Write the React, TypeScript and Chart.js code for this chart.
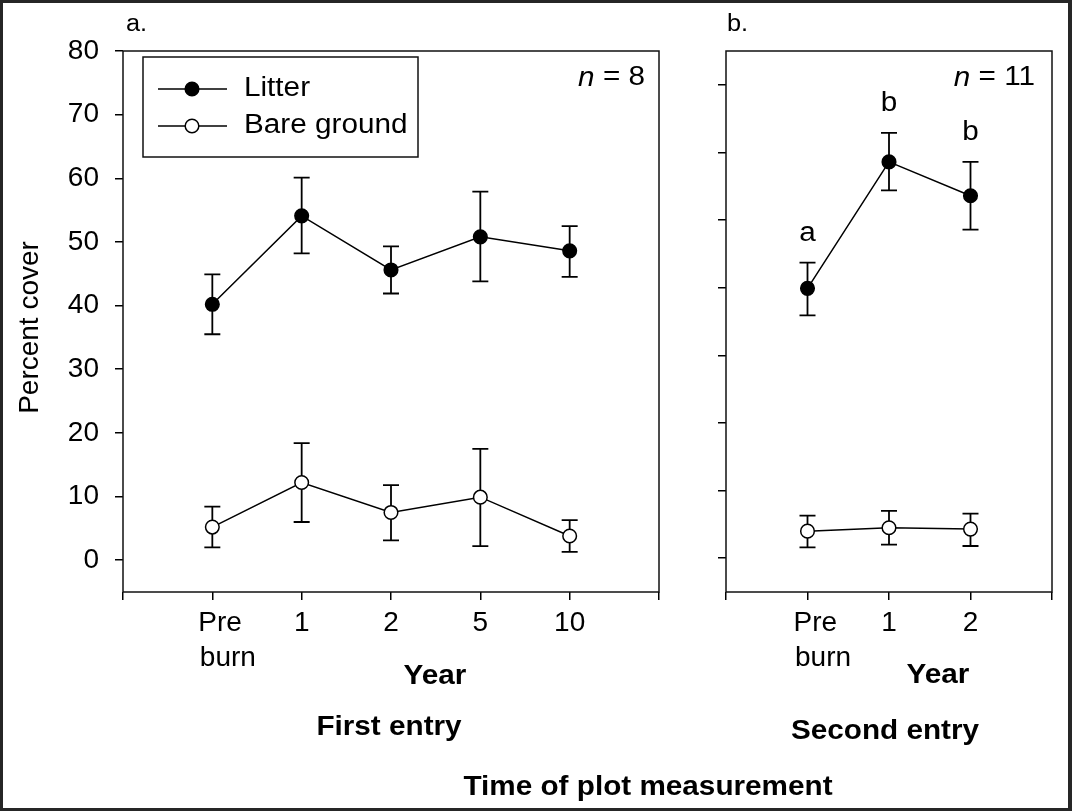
import React, { useEffect, useRef } from 'react';
import { Chart, registerables } from 'chart.js';

Chart.register(...registerables);

const WIDTH = 1072;
const HEIGHT = 811;
const FONT = "'Liberation Sans', Arial, Helvetica, sans-serif";

// ---------- Panel a: first entry (n = 8) ----------
const firstYears = ['Pre burn', '1', '2', '5', '10'];
const firstLitter = [40.2, 54.1, 45.6, 50.8, 48.6];
const firstLitterUpper = [44.9, 60.1, 49.3, 57.9, 52.5];
const firstLitterLower = [35.5, 48.2, 41.9, 43.8, 44.5];
const firstBare = [5.2, 12.2, 7.5, 9.9, 3.8];
const firstBareUpper = [8.4, 18.4, 11.8, 17.5, 6.3];
const firstBareLower = [2.0, 6.0, 3.1, 2.2, 1.3];
const firstYTicks = [0, 10, 20, 30, 40, 50, 60, 70, 80];

// ---------- Panel b: second entry (n = 11) ----------
const secondYears = ['Pre burn', '1', '2'];
const secondLitter = [39.9, 58.6, 53.6];
const secondLitterUpper = [43.7, 62.9, 58.6];
const secondLitterLower = [35.9, 54.4, 48.6];
const secondLitterLetters = ['a', 'b', 'b'];
const secondBare = [4.0, 4.5, 4.3];
const secondBareUpper = [6.3, 7.0, 6.6];
const secondBareLower = [1.6, 2.0, 1.8];
const secondYTicks = [0, 10, 20, 30, 40, 50, 60, 70];

const seriesNames = ['Litter', 'Bare ground'];
const yAxisTitle = 'Percent cover';

const pad = (arr: any[]) => [null, ...arr, null];

type TextItem = { text: string; x: number; y: number; font: string; align: CanvasTextAlign };

type PanelSpec = {
  years: string[];
  litter: number[]; litterUpper: number[]; litterLower: number[]; letters?: string[];
  bare: number[]; bareUpper: number[]; bareLower: number[];
  yMin: number; yMax: number; yTicks: number[]; showYLabels: boolean;
  area: { left: number; top: number; right: number; bottom: number };
  yAxisWidth: number;
  n: string; nRight: number;
  legend: boolean;
  texts: TextItem[];
};

const REG = (s: number) => `${s}px ${FONT}`;
const BOLD = (s: number) => `bold ${s}px ${FONT}`;
const SX = 1.1; // horizontal stretch of the source figure's lettering

const panelA: PanelSpec = {
  years: firstYears,
  litter: firstLitter, litterUpper: firstLitterUpper, litterLower: firstLitterLower,
  bare: firstBare, bareUpper: firstBareUpper, bareLower: firstBareLower,
  yMin: -5, yMax: 80, yTicks: firstYTicks, showYLabels: true,
  area: { left: 123, top: 51, right: 659, bottom: 592 },
  yAxisWidth: 123,
  n: '8', nRight: 645,
  legend: true,
  texts: [
    { text: 'a.', x: 126, y: 25, font: REG(23), align: 'left' },
    { text: 'Year', x: 435, y: 677, font: BOLD(27), align: 'center' },
    { text: 'First entry', x: 389, y: 728, font: BOLD(27), align: 'center' },
    { text: 'Time of plot measurement', x: 648, y: 788, font: BOLD(27), align: 'center' },
  ],
};

const panelB: PanelSpec = {
  years: secondYears,
  litter: secondLitter, litterUpper: secondLitterUpper, litterLower: secondLitterLower, letters: secondLitterLetters,
  bare: secondBare, bareUpper: secondBareUpper, bareLower: secondBareLower,
  yMin: -5, yMax: 75, yTicks: secondYTicks, showYLabels: false,
  area: { left: 726, top: 51, right: 1052, bottom: 592 },
  yAxisWidth: 40,
  n: '11', nRight: 1035,
  legend: false,
  texts: [
    { text: 'b.', x: 727, y: 25, font: REG(23), align: 'left' },
    { text: 'Year', x: 938, y: 676, font: BOLD(27), align: 'center' },
    { text: 'Second entry', x: 885, y: 732, font: BOLD(27), align: 'center' },
  ],
};

function drawText(ctx: CanvasRenderingContext2D, text: string, x: number, y: number, font: string, align: CanvasTextAlign, sx = SX) {
  ctx.save();
  ctx.font = font;
  ctx.textAlign = align;
  ctx.textBaseline = 'middle';
  ctx.fillStyle = '#000';
  ctx.translate(x, y);
  ctx.scale(sx, 1);
  ctx.fillText(text, 0, 0);
  ctx.restore();
}

function drawMarker(ctx: CanvasRenderingContext2D, x: number, y: number, fill: string) {
  ctx.beginPath();
  ctx.arc(x, y, 6.8, 0, Math.PI * 2);
  ctx.fillStyle = fill;
  ctx.fill();
  ctx.lineWidth = 1.5;
  ctx.strokeStyle = '#000';
  ctx.stroke();
}

// "Pre burn" is printed as two left-aligned lines in the source
const tickLabel = (c: string) => (c.includes(' ') ? ['  ' + c.split(' ')[0], '    ' + c.split(' ')[1]] : c);

function buildConfig(spec: PanelSpec): any {
  const labels = ['', ...spec.years.map(tickLabel), ''];
  const datasets: any[] = [
    {
      label: seriesNames[0],
      data: pad(spec.litter),
      errUpper: pad(spec.litterUpper),
      errLower: pad(spec.litterLower),
      letters: spec.letters ? pad(spec.letters) : null,
      borderColor: '#000',
      borderWidth: 1.5,
      pointBackgroundColor: '#000',
      pointBorderColor: '#000',
      pointBorderWidth: 1.5,
      pointRadius: 6.8,
      tension: 0,
    },
    {
      label: seriesNames[1],
      data: pad(spec.bare),
      errUpper: pad(spec.bareUpper),
      errLower: pad(spec.bareLower),
      borderColor: '#000',
      borderWidth: 1.5,
      pointBackgroundColor: '#fff',
      pointBorderColor: '#000',
      pointBorderWidth: 1.5,
      pointRadius: 6.8,
      tension: 0,
    },
  ];

  const decor = {
    id: 'panelDecor',
    beforeDatasetsDraw(chart: any) {
      const { ctx, chartArea: a, scales } = chart;
      const y = scales.y;
      ctx.save();
      ctx.strokeStyle = '#111';
      ctx.lineWidth = 1.5;
      ctx.strokeRect(a.left, a.top, a.right - a.left, a.bottom - a.top);
      ctx.lineWidth = 1.8;
      ctx.strokeStyle = '#000';
      chart.data.datasets.forEach((ds: any, di: number) => {
        const meta = chart.getDatasetMeta(di);
        ds.data.forEach((v: any, i: number) => {
          if (v == null) return;
          const px = meta.data[i].x;
          const yu = y.getPixelForValue(ds.errUpper[i]);
          const yl = y.getPixelForValue(ds.errLower[i]);
          ctx.beginPath();
          ctx.moveTo(px, yu); ctx.lineTo(px, yl);
          ctx.moveTo(px - 8, yu); ctx.lineTo(px + 8, yu);
          ctx.moveTo(px - 8, yl); ctx.lineTo(px + 8, yl);
          ctx.stroke();
        });
      });
      ctx.restore();
    },
    afterDraw(chart: any) {
      const { ctx, scales, chartArea: a } = chart;
      const y = scales.y;
      ctx.save();
      // y-axis title
      if (spec.showYLabels) {
        ctx.save();
        ctx.translate(30, (a.top + a.bottom) / 2 + 6);
        ctx.rotate(-Math.PI / 2);
        ctx.font = REG(28);
        ctx.textAlign = 'center';
        ctx.textBaseline = 'middle';
        ctx.fillStyle = '#000';
        ctx.fillText(yAxisTitle, 0, 0);
        ctx.restore();
      }
      // significance letters
      chart.data.datasets.forEach((ds: any, di: number) => {
        if (!ds.letters) return;
        const meta = chart.getDatasetMeta(di);
        ds.letters.forEach((t: any, i: number) => {
          if (t == null) return;
          drawText(ctx, t, meta.data[i].x, y.getPixelForValue(ds.errUpper[i]) - 29, REG(27), 'center');
        });
      });
      // free texts
      spec.texts.forEach((t) => drawText(ctx, t.text, t.x, t.y, t.font, t.align));
      // n = ...
      const rest = ' = ' + spec.n;
      ctx.font = REG(27);
      const w = ctx.measureText(rest).width * SX;
      drawText(ctx, rest, spec.nRight, 78, REG(27), 'right');
      drawText(ctx, 'n', spec.nRight - w, 78, 'italic ' + REG(27), 'right');
      // legend
      if (spec.legend) {
        ctx.lineWidth = 1.5;
        ctx.strokeStyle = '#111';
        ctx.strokeRect(143, 57, 275, 100);
        const rows = [89, 126];
        chart.data.datasets.forEach((ds: any, di: number) => {
          const ry = rows[di];
          ctx.beginPath();
          ctx.moveTo(158, ry); ctx.lineTo(227, ry);
          ctx.lineWidth = 1.5; ctx.strokeStyle = '#000';
          ctx.stroke();
          drawMarker(ctx, 192, ry, ds.pointBackgroundColor);
          drawText(ctx, ds.label, 244, ry, REG(27), 'left');
        });
      }
      ctx.restore();
    },
  };

  return {
    type: 'line',
    data: { labels, datasets },
    plugins: [decor],
    options: {
      responsive: false,
      animation: false,
      devicePixelRatio: 1,
      layout: {
        padding: {
          left: spec.area.left - spec.yAxisWidth,
          top: spec.area.top,
          right: WIDTH - spec.area.right,
          bottom: 0,
        },
      },
      plugins: { legend: { display: false }, tooltip: { enabled: false }, title: { display: false } },
      scales: {
        x: {
          type: 'category',
          offset: false,
          afterFit: (s: any) => { s.height = HEIGHT - spec.area.bottom; },
          grid: { drawOnChartArea: false, drawTicks: true, tickLength: 8, color: '#000', lineWidth: 1.5 },
          border: { display: false },
          ticks: {
            autoSkip: false, maxRotation: 0, minRotation: 0, padding: 6,
            color: '#000', font: { family: FONT, size: 28, lineHeight: 1.25 },
          },
        },
        y: {
          type: 'linear',
          min: spec.yMin,
          max: spec.yMax,
          afterFit: (s: any) => { s.width = spec.yAxisWidth; },
          afterBuildTicks: (s: any) => { s.ticks = spec.yTicks.map((v) => ({ value: v })); },
          grid: { drawOnChartArea: false, drawTicks: true, tickLength: 8, color: '#000', lineWidth: 1.5 },
          border: { display: false },
          title: { display: false },
          ticks: {
            padding: 16,
            color: '#000',
            font: { family: FONT, size: 28 },
            callback: (v: any) => (spec.showYLabels ? String(v) : ''),
          },
        },
      },
    },
  };
}

function Panel({ spec }: { spec: PanelSpec }) {
  const ref = useRef<HTMLCanvasElement>(null);
  useEffect(() => {
    const chart = new Chart(ref.current as HTMLCanvasElement, buildConfig(spec));
    return () => chart.destroy();
  }, [spec]);
  return (
    <canvas
      ref={ref}
      width={WIDTH}
      height={HEIGHT}
      style={{ position: 'absolute', left: 0, top: 0, width: WIDTH, height: HEIGHT }}
    />
  );
}

export default function App() {
  return (
    <div style={{ position: 'absolute', left: 0, top: 0, width: WIDTH, height: HEIGHT, background: '#262626', overflow: 'hidden' }}>
      <div style={{ position: 'absolute', left: 3, top: 3, width: WIDTH - 7, height: HEIGHT - 6, background: '#fff' }} />
      <Panel spec={panelA} />
      <Panel spec={panelB} />
    </div>
  );
}
